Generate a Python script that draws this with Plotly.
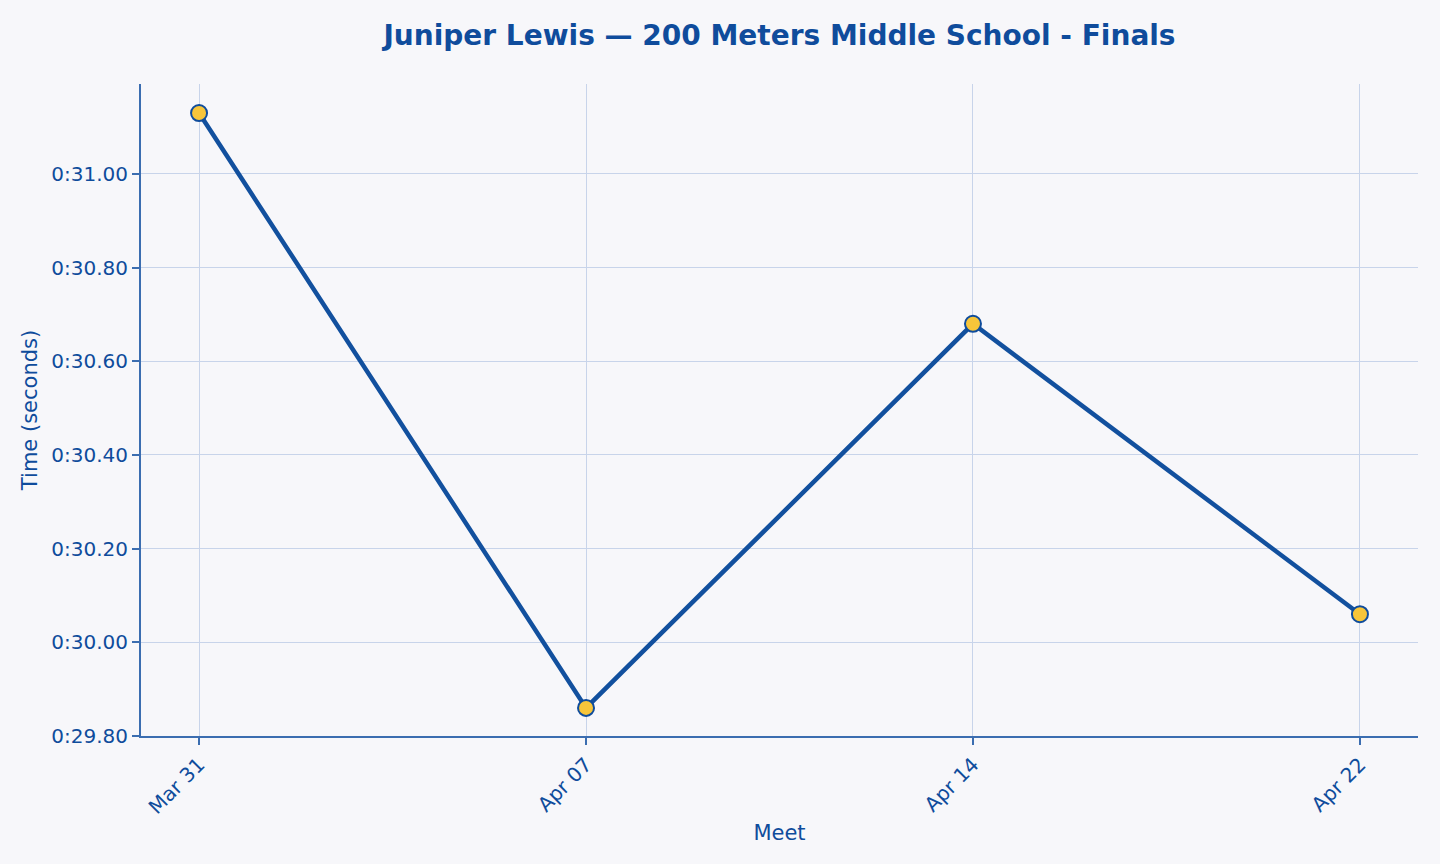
import plotly.graph_objects as go

meets = ["Mar 31", "Apr 07", "Apr 14", "Apr 22"]
times = [31.13, 29.86, 30.68, 30.06]
tick_vals = [29.8, 30.0, 30.2, 30.4, 30.6, 30.8, 31.0]
tick_text = ["0:29.80", "0:30.00", "0:30.20", "0:30.40", "0:30.60", "0:30.80", "0:31.00"]

dark = "#0f4c9c"
axis_col = "#3b6db0"
grid_col = "#c8d4ea"

fig = go.Figure()
fig.add_trace(go.Scatter(
    x=meets, y=times, mode="lines+markers",
    line=dict(color="#12509e", width=4.5),
    marker=dict(size=16, color="#f7c53a", line=dict(color=dark, width=2)),
    showlegend=False,
))

fig.update_layout(
    width=1440, height=864,
    paper_bgcolor="#f7f7fa", plot_bgcolor="#f7f7fa",
    margin=dict(l=141, r=22, t=84, b=128),
    font=dict(family="DejaVu Sans", color=dark, size=20),
    title=dict(text="<b>Juniper Lewis — 200 Meters Middle School - Finals</b>",
               x=0.5413, xanchor="center", y=0.959, yanchor="middle",
               font=dict(size=28, color=dark)),
)
fig.update_xaxes(
    type="category", range=[-0.15, 3.15],
    showline=True, linecolor=axis_col, linewidth=2,
    ticks="outside", ticklen=7, tickwidth=2, tickcolor=axis_col,
    tickangle=-45, tickfont=dict(size=20, color=dark),
    showgrid=True, gridcolor=grid_col, gridwidth=1,
    title=dict(text="Meet", font=dict(size=21, color=dark), standoff=8),
    zeroline=False,
)
fig.update_yaxes(
    range=[29.8, 31.192],
    tickvals=tick_vals, ticktext=tick_text,
    showline=True, linecolor=axis_col, linewidth=2,
    ticks="outside", ticklen=7, tickwidth=2, tickcolor=axis_col,
    tickfont=dict(size=20, color=dark),
    showgrid=True, gridcolor=grid_col, gridwidth=1,
    title=dict(text="Time (seconds)", font=dict(size=21, color=dark), standoff=8),
    zeroline=False,
)

fig.write_html("out.html")
